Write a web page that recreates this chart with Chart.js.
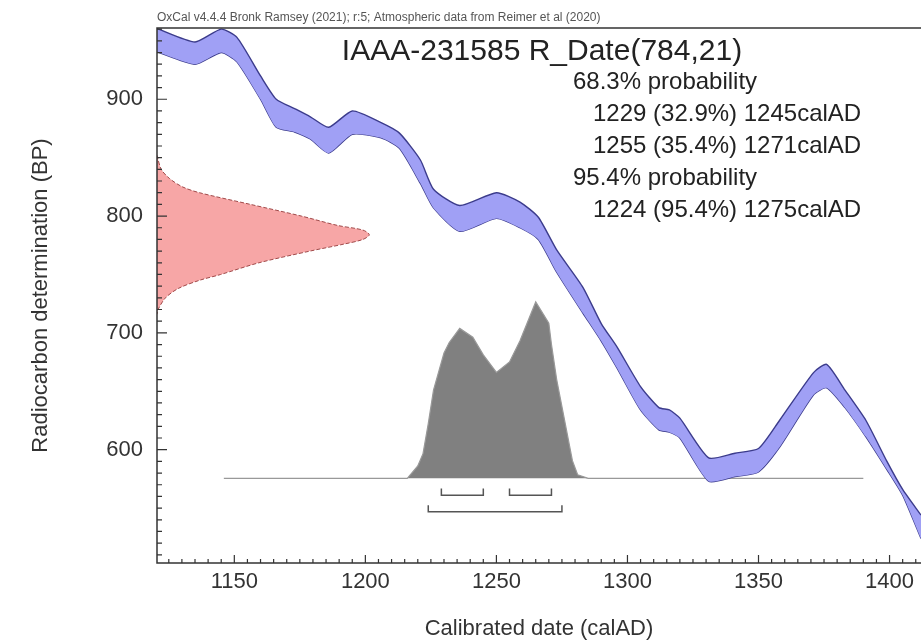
<!DOCTYPE html>
<html>
<head>
<meta charset="utf-8">
<script src="https://cdn.jsdelivr.net/npm/chart.js@4.4.0/dist/chart.umd.min.js"></script>
<style>
  html, body { margin: 0; padding: 0; background: #fff; }
  #wrap { width: 921px; height: 643px; }
</style>
</head>
<body>
<div id="wrap"><canvas id="calib"></canvas></div>
<script>
// calibration curve band (BP), upper and lower edge
const calYears = [1120, 1135, 1145, 1151, 1160, 1166, 1173, 1179, 1186, 1195, 1206, 1213, 1221, 1226, 1236, 1250, 1259, 1266, 1273, 1283, 1290, 1296, 1305, 1312, 1316, 1320, 1331, 1341, 1350, 1358, 1371, 1376, 1383, 1391, 1399, 1405, 1412];
const calUpper = [961, 949, 960, 953, 920, 900, 892, 885, 876, 890, 880, 871, 848, 823, 809, 820, 812, 799, 771, 739, 708, 688, 654, 636, 634, 627, 593, 597, 601, 625, 666, 673, 651, 625, 590, 566, 544];
const calLower = [941, 930, 940, 932, 900, 876, 872, 866, 854, 870, 867, 858, 828, 807, 787, 798, 790, 780, 752, 717, 693, 670, 634, 617, 615, 610, 573, 577, 581, 602, 647, 653, 636, 611, 583, 561, 524];

// R_Date(784,21): relative probability against BP
const dateBP = [852, 840, 832, 825, 820, 810, 800, 792, 788, 784, 780, 776, 770, 760, 750, 745, 738, 730, 720, 716];
const dateProb = [0, 0.02, 0.06, 0.12, 0.2, 0.44, 0.68, 0.85, 0.97, 1.0, 0.97, 0.88, 0.72, 0.48, 0.3, 0.2, 0.1, 0.04, 0.005, 0];

// calibrated distribution: relative probability against calendar year
const postYears = [1146, 1216, 1220, 1222, 1224, 1226, 1230, 1232, 1236, 1241, 1245, 1250, 1255, 1259, 1265, 1270, 1271, 1273, 1276, 1279, 1281, 1285, 1390];
const postProb = [0, 0, 0.07, 0.14, 0.31, 0.5, 0.71, 0.77, 0.85, 0.8, 0.7, 0.6, 0.66, 0.78, 1.0, 0.88, 0.76, 0.56, 0.33, 0.1, 0.02, 0, 0];

// hpd ranges
const range68 = [[1229, 1245], [1255, 1271]];
const range95 = [[1224, 1275]];

const xTickValues = [1150, 1200, 1250, 1300, 1350, 1400];
const yTickValues = [600, 700, 800, 900];

const headerText = 'OxCal v4.4.4 Bronk Ramsey (2021); r:5; Atmospheric data from Reimer et al (2020)';
const titleText = 'IAAA-231585 R_Date(784,21)';
const rangeLines = ['68.3% probability', '1229 (32.9%) 1245calAD', '1255 (35.4%) 1271calAD', '95.4% probability', '1224 (95.4%) 1275calAD'];

const X_MIN = 1120.5, X_MAX = 1412, Y_MIN = 503, Y_MAX = 961;
const FONT = '"Liberation Sans", Arial, sans-serif';

// drawing sizes for the two distributions
const dateWidth = 81;      // years at peak
const postBase = 575.5;    // BP of baseline
const postHeight = 151;    // BP at peak

const band = (ys) => calYears.map((x, i) => ({ x: x, y: ys[i] }));

const datePts = [{ x: X_MIN, y: dateBP[0] }]
  .concat(dateBP.map((b, i) => ({ x: X_MIN + dateProb[i] * dateWidth, y: b })))
  .concat([{ x: X_MIN, y: dateBP[dateBP.length - 1] }]);

const postPts = postYears.map((x, i) => ({ x: x, y: postBase + postProb[i] * postHeight }));

function bracketPts(ranges, top, bottom) {
  let pts = [];
  ranges.forEach(r => {
    pts.push({ x: r[0], y: top }, { x: r[0], y: bottom }, { x: r[1], y: bottom }, { x: r[1], y: top }, { x: r[1], y: null });
  });
  return pts;
}

const frame = {
  id: 'frame',
  afterDatasetsDraw(chart) {
    const { ctx, chartArea: a, scales: { x, y } } = chart;
    ctx.save();
    ctx.strokeStyle = '#333';
    ctx.lineWidth = 1.5;
    ctx.beginPath();
    ctx.moveTo(a.right, a.top);
    ctx.lineTo(a.left, a.top);
    ctx.lineTo(a.left, a.bottom);
    ctx.lineTo(a.right, a.bottom);
    ctx.stroke();

    ctx.lineWidth = 1.2;
    ctx.beginPath();
    for (let v = 1125; v <= X_MAX; v += 5) {
      const px = x.getPixelForValue(v);
      const len = v % 50 === 0 ? 8 : 4;
      ctx.moveTo(px, a.bottom);
      ctx.lineTo(px, a.bottom - len);
    }
    for (let v = 510; v <= Y_MAX; v += 10) {
      const py = y.getPixelForValue(v);
      const len = v % 100 === 0 ? 10 : 5;
      ctx.moveTo(a.left, py);
      ctx.lineTo(a.left + len, py);
    }
    ctx.stroke();

    // texts
    ctx.fillStyle = '#555';
    ctx.font = '12px ' + FONT;
    ctx.textBaseline = 'middle';
    ctx.textAlign = 'left';
    ctx.fillText(headerText, a.left, 18);

    ctx.fillStyle = '#222';
    ctx.font = '30px ' + FONT;
    ctx.textAlign = 'center';
    ctx.fillText(titleText, 542, 52);

    ctx.font = '24px ' + FONT;
    ctx.textAlign = 'left';
    rangeLines.forEach((t, i) => {
      const indent = t.indexOf('probability') >= 0 ? 0 : 20;
      ctx.fillText(t, 573 + indent, 82 + i * 32);
    });
    ctx.restore();
  }
};

new Chart(document.getElementById('calib'), {
  type: 'scatter',
  data: {
    datasets: [
      {
        label: 'upper',
        data: band(calUpper),
        showLine: true,
        borderColor: '#3c3c8c',
        borderWidth: 1.4,
        backgroundColor: 'rgba(160,160,245,1)',
        fill: '+1',
        pointRadius: 0,
        tension: 0.2
      },
      {
        label: 'lower',
        data: band(calLower),
        showLine: true,
        borderColor: '#3c3c8c',
        borderWidth: 1.4,
        fill: false,
        pointRadius: 0,
        tension: 0.2
      },
      {
        label: 'date',
        data: datePts,
        showLine: true,
        borderColor: '#a04848',
        borderWidth: 1,
        borderDash: [4, 2],
        backgroundColor: '#f7a6a6',
        fill: 'shape',
        pointRadius: 0,
        tension: 0.3
      },
      {
        label: 'calibrated',
        data: postPts,
        showLine: true,
        borderColor: '#999',
        borderWidth: 1.2,
        backgroundColor: '#808080',
        fill: { value: postBase },
        pointRadius: 0
      },
      {
        label: 'hpd',
        data: bracketPts(range68, 566.8, 561).concat(bracketPts(range95, 552.5, 546.8)),
        showLine: true,
        spanGaps: false,
        borderColor: '#555',
        borderWidth: 1.5,
        pointRadius: 0,
        fill: false
      }
    ]
  },
  options: {
    responsive: true,
    maintainAspectRatio: false,
    animation: false,
    layout: { padding: { top: 28, left: 0, right: 0, bottom: 0 } },
    plugins: { legend: { display: false }, tooltip: { enabled: false } },
    scales: {
      x: {
        type: 'linear',
        min: X_MIN,
        max: X_MAX,
        grid: { display: false, drawTicks: false },
        border: { display: false },
        afterBuildTicks: s => { s.ticks = xTickValues.map(v => ({ value: v })); },
        afterFit: s => { s.height = 80; },
        ticks: { padding: 6, color: '#333', font: { family: FONT, size: 22 }, maxRotation: 0, callback: v => String(v) },
        title: { display: true, text: 'Calibrated date (calAD)', color: '#333', font: { family: FONT, size: 22 }, padding: { top: 0, bottom: 1 } }
      },
      y: {
        type: 'linear',
        min: Y_MIN,
        max: Y_MAX,
        grid: { display: false, drawTicks: false },
        border: { display: false },
        afterBuildTicks: s => { s.ticks = yTickValues.map(v => ({ value: v })); },
        afterFit: s => { s.width = 157; },
        ticks: { padding: 14, color: '#333', font: { family: FONT, size: 22 }, callback: v => String(v) },
        title: { display: true, text: 'Radiocarbon determination (BP)', color: '#333', font: { family: FONT, size: 22 }, padding: { top: 28, bottom: 0 } }
      }
    }
  },
  plugins: [frame]
});
</script>
</body>
</html>
